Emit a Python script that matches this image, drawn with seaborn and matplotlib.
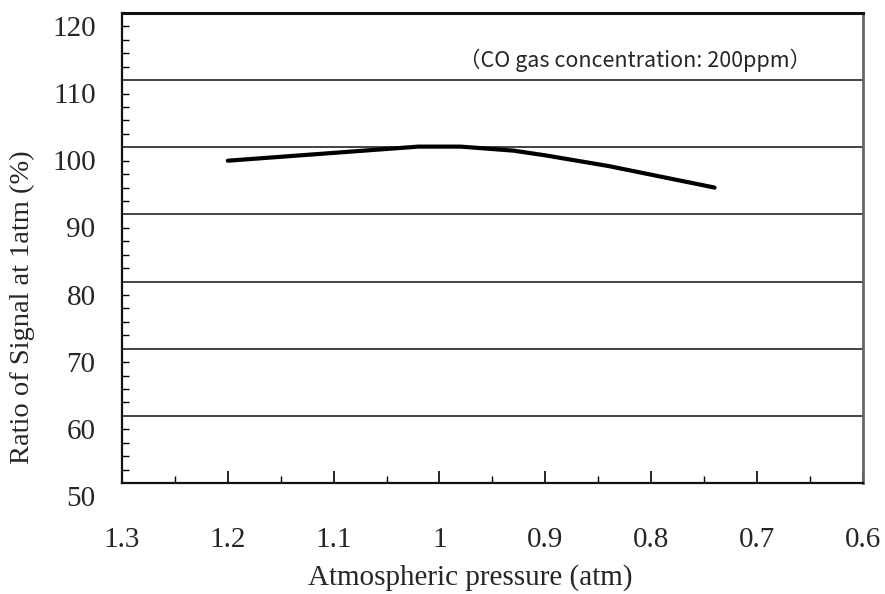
import matplotlib
matplotlib.use("Agg")
import matplotlib.pyplot as plt
import matplotlib.transforms as mtransforms
from matplotlib.ticker import MultipleLocator
import seaborn as sns
import pandas as pd

pressure = [1.2, 1.02, 1.0, 0.98, 0.93, 0.9, 0.84, 0.74]
ratio = [98.0, 100.1, 100.1, 100.1, 99.5, 98.8, 97.2, 94.0]
x_ticks = [1.3, 1.2, 1.1, 1.0, 0.9, 0.8, 0.7, 0.6]
x_ticklabels = ["1.3", "1.2", "1.1", "1", "0.9", "0.8", "0.7", "0.6"]
y_ticks = [50, 60, 70, 80, 90, 100, 110, 120]
note = "（CO gas concentration: 200ppm）"

sns.set_theme(style="white")
plt.rcParams["font.family"] = ["Liberation Serif", "DejaVu Serif"]

df = pd.DataFrame({"pressure": pressure, "ratio": ratio})

fig = plt.figure(figsize=(8.85, 5.94), dpi=100)
ax = fig.add_axes([122 / 885, 1 - 483 / 594, (862.7 - 122) / 885, (483 - 13) / 594])

sns.lineplot(data=df, x="pressure", y="ratio", ax=ax, color="black",
             linewidth=3.0, sort=False, estimator=None)

ax.set_xlim(1.3, 0.6)
ax.set_ylim(50, 120)
ax.set_xticks(x_ticks)
ax.set_xticklabels(x_ticklabels)
ax.set_yticks(y_ticks)
ax.set_yticklabels([str(v) for v in y_ticks])
ax.xaxis.set_minor_locator(MultipleLocator(0.05))
ax.yaxis.set_minor_locator(MultipleLocator(2))

ax.tick_params(axis="x", which="major", direction="in", length=9, width=1.2,
               color="black", pad=32, labelsize=21, bottom=True)
ax.tick_params(axis="x", which="minor", direction="in", length=5, width=1.0,
               color="black", bottom=True)
ax.tick_params(axis="y", which="major", direction="in", length=0, pad=19,
               labelsize=21, left=True)
ax.tick_params(axis="y", which="minor", direction="in", length=5, width=1.0,
               color="black", left=True)

offset = mtransforms.ScaledTranslation(0, -13 / 100, fig.dpi_scale_trans)
for lab in ax.get_yticklabels():
    lab.set_transform(lab.get_transform() + offset)

ax.yaxis.grid(True, which="major", color="#222222", linewidth=1.2)
ax.xaxis.grid(False)
ax.set_axisbelow(True)

for side in ["left", "bottom", "top"]:
    ax.spines[side].set_color("#111111")
    ax.spines[side].set_linewidth(1.6)
ax.spines["top"].set_linewidth(2.2)
ax.spines["right"].set_color("#666666")
ax.spines["right"].set_linewidth(2.0)

ax.set_xlabel("Atmospheric pressure (atm)", fontsize=21)
ax.set_ylabel("Ratio of Signal at 1atm (%)", fontsize=20.5)
ax.xaxis.set_label_coords((470 - 122) / 740.7, -(578 - 483) / 470)
ax.xaxis.label.set_va("center")
ax.yaxis.set_label_coords(-(122 - 22) / 740.7, (483 - 307) / 470)
ax.yaxis.label.set_va("center")

txt = ax.text(0, 0, note, fontsize=15.5,
              family=["Noto Sans CJK JP", "DejaVu Sans"], ha="center", va="center")
txt.set_transform(mtransforms.IdentityTransform())
txt.set_position((635, 594 - 60))

fig.savefig("out.png", dpi=100)
